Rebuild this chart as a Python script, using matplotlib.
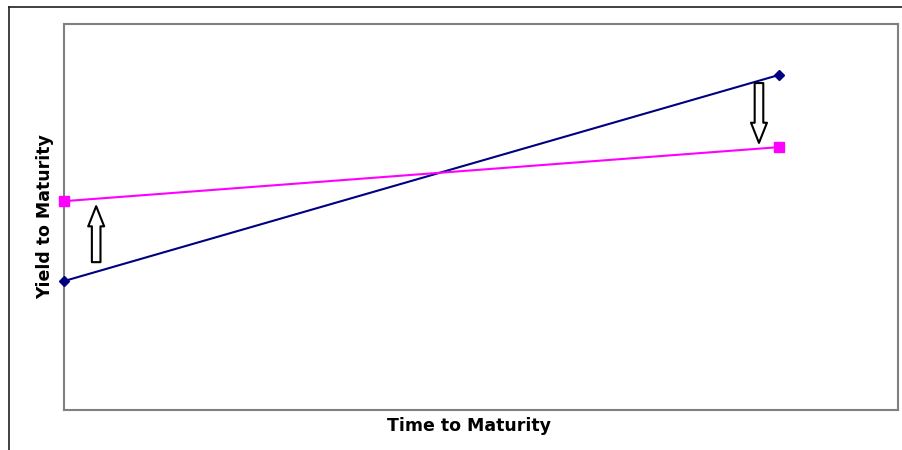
import matplotlib.pyplot as plt
from matplotlib.lines import Line2D

# two yield curves, short and long maturity end points
maturity = [0, 10]
ytm_before = [3.34, 8.68]
ytm_after = [5.41, 6.81]

# arrows showing the shift (x, y_start, y_end)
arrow_x = [0.45, 9.72]
arrow_from = [3.83, 8.47]
arrow_to = [5.28, 6.92]

fig = plt.figure(figsize=(9.02, 4.5), dpi=100)
ax = fig.add_axes([64 / 902, 40 / 450, 834 / 902, 386 / 450])

ax.plot(maturity, ytm_before, color='#000080', lw=1.5, marker='D',
        markersize=5.5, clip_on=False, zorder=3)
ax.plot(maturity, ytm_after, color='#FF00FF', lw=1.5, marker='s',
        markersize=6.5, clip_on=False, zorder=3)

for x, y0, y1 in zip(arrow_x, arrow_from, arrow_to):
    ax.annotate('', xy=(x, y1), xytext=(x, y0),
                arrowprops=dict(arrowstyle='simple,head_length=1.45,head_width=1.15,tail_width=0.62',
                                facecolor='white', edgecolor='black', lw=1.5,
                                shrinkA=0, shrinkB=0))

ax.set_xlim(0, 10 * 834 / 715)
ax.set_ylim(0, 10)
ax.set_xticks([])
ax.set_yticks([])
for s in ax.spines.values():
    s.set_color('#808080')
    s.set_linewidth(1.5)

ax.set_xlabel('Time to Maturity', fontsize=12.5, fontweight='bold')
ax.xaxis.set_label_coords((469 - 64) / 834, -0.019, transform=ax.transAxes)
ax.xaxis.label.set_va('top')
ax.set_ylabel('Yield to Maturity', fontsize=12.5, fontweight='bold', labelpad=7)

# outer chart frame (left and top only visible)
fig.add_artist(Line2D([9 / 902, 9 / 902], [0, 1 - 7 / 450], color='#202020', lw=1.2))
fig.add_artist(Line2D([9 / 902, 1], [1 - 7 / 450, 1 - 7 / 450], color='#202020', lw=1.2))

fig.savefig('out.png', dpi=100)
